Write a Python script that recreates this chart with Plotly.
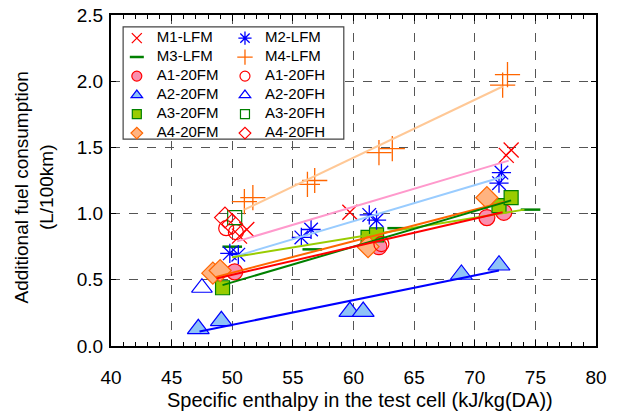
import plotly.graph_objects as go

# ---- data ----
m1_x = [50.6, 51.2, 59.7, 72.6, 73.0]
m1_y = [0.83, 0.88, 1.01, 1.44, 1.48]
m2_x = [49.8, 50.5, 55.7, 56.5, 61.3, 61.9, 72.0, 72.2]
m2_y = [0.70, 0.69, 0.82, 0.88, 0.99, 0.95, 1.23, 1.31]
m3_x = [50.0, 56.6, 63.6, 74.6]
m3_y = [0.75, 0.73, 0.89, 1.03]
m4_x = [51.0, 51.7, 56.2, 56.8, 62.1, 63.2, 72.3, 72.7]
m4_y = [1.09, 1.12, 1.22, 1.25, 1.46, 1.49, 1.97, 2.05]

a1fm_x = [50.2, 62.1, 71.0, 72.4]
a1fm_y = [0.56, 0.75, 0.97, 1.01]
a1fh_x = [49.5, 50.3, 62.3]
a1fh_y = [0.89, 0.86, 0.77]
a2fm_x = [47.2, 49.1, 59.7, 60.8, 68.9, 72.0]
a2fm_y = [0.13, 0.19, 0.26, 0.26, 0.54, 0.61]
a2fh_x = [47.5]
a2fh_y = [0.44]
a3fm_x = [49.2, 61.2, 61.9, 72.0, 73.0]
a3fm_y = [0.44, 0.82, 0.84, 1.06, 1.12]
a3fh_x = [50.2]
a3fh_y = [0.97]
a4fm_x = [48.4, 49.0, 61.2, 71.0]
a4fm_y = [0.55, 0.57, 0.75, 1.12]
a4fh_x = [49.4, 50.0]
a4fh_y = [0.97, 0.92]

# trend lines (end points)
fit_m1_x, fit_m1_y = [50.4, 72.8], [0.79, 1.40]
fit_m2_x, fit_m2_y = [50.0, 72.4], [0.67, 1.28]
fit_m3_x, fit_m3_y = [50.0, 74.1], [0.67, 1.03]
fit_m4_x, fit_m4_y = [51.0, 72.3], [1.03, 1.96]
fit_a1_x, fit_a1_y = [48.7, 72.3], [0.51, 1.01]
fit_a2_x, fit_a2_y = [47.3, 72.0], [0.11, 0.57]
fit_a3_x, fit_a3_y = [49.2, 73.0], [0.46, 1.10]
fit_a4_x, fit_a4_y = [48.6, 72.5], [0.52, 1.09]

FONT = "Arial, Liberation Sans, sans-serif"

fig = go.Figure()

def pts(x, y, name, legend, symbol, size, lsize, color, fill=None, lw=1.2):
    mk = dict(symbol=symbol, color=fill if fill else color, line=dict(color=color, width=lw))
    # data markers
    fig.add_trace(go.Scatter(x=x, y=y, mode="markers", name=name, showlegend=False,
                             marker=dict(size=size, **mk)))
    # small marker for the legend only (bigger text, tight rows)
    fig.add_trace(go.Scatter(x=[None], y=[None], mode="markers",
                             name=f'<span style="font-size:15px">{name}</span>',
                             legend=legend, marker=dict(size=lsize, **mk)))

# left column of legend
pts(m1_x, m1_y, "M1-LFM", "legend", "x-thin-open", 15, 10, "#FF0000", lw=1.3)
pts(m3_x, m3_y, "M3-LFM", "legend", "line-ew-open", 14, 10, "#008000", lw=2.5)
pts(a1fm_x, a1fm_y, "A1-20FM", "legend", "circle", 16, 10, "#FF0000", fill="#F98FAE")
pts(a2fm_x, a2fm_y, "A2-20FM", "legend", "triangle-up", 19, 10, "#0000FF", fill="#8FC3F7")
pts(a3fm_x, a3fm_y, "A3-20FM", "legend", "square", 14, 9, "#008000", fill="#99CC00")
pts(a4fm_x, a4fm_y, "A4-20FM", "legend", "diamond", 17, 9, "#FF6600", fill="#FFB380")
# right column of legend
pts(m2_x, m2_y, "M2-LFM", "legend2", "asterisk-open", 16, 11, "#0000FF", lw=1.3)
pts(m4_x, m4_y, "M4-LFM", "legend2", "cross-thin-open", 18, 11, "#FF6600", lw=1.3)
pts(a1fh_x, a1fh_y, "A1-20FH", "legend2", "circle-open", 15, 10, "#FF0000")
pts(a2fh_x, a2fh_y, "A2-20FH", "legend2", "triangle-up-open", 18, 10, "#0000FF")
pts(a3fh_x, a3fh_y, "A3-20FH", "legend2", "square-open", 14, 9, "#008000")
pts(a4fh_x, a4fh_y, "A4-20FH", "legend2", "diamond-open", 16, 9, "#FF0000")

# trend lines drawn over the markers
for fx, fy, c in [
    (fit_m4_x, fit_m4_y, "#FFC896"),
    (fit_m1_x, fit_m1_y, "#FF99CC"),
    (fit_m2_x, fit_m2_y, "#99CCFF"),
    (fit_m3_x, fit_m3_y, "#99CC00"),
    (fit_a4_x, fit_a4_y, "#FF6600"),
    (fit_a3_x, fit_a3_y, "#008000"),
    (fit_a1_x, fit_a1_y, "#FF0000"),
    (fit_a2_x, fit_a2_y, "#0000FF"),
]:
    fig.add_trace(go.Scatter(x=fx, y=fy, mode="lines", showlegend=False,
                             line=dict(color=c, width=2), hoverinfo="skip"))

# white legend box (above the grid, the legend itself is drawn on top)
fig.add_shape(type="rect", xref="paper", yref="paper",
              x0=0.025, x1=0.480, y0=0.625, y1=0.964,
              line=dict(color="#444444", width=1.2), fillcolor="white",
              layer="above")

# axis titles as annotations so they sit where the reference has them
fig.add_annotation(text="Specific enthalpy in the test cell (kJ/kg(DA))",
                   xref="paper", yref="paper", x=0.513, y=-0.163,
                   xanchor="center", yanchor="middle", showarrow=False,
                   font=dict(family=FONT, size=20, color="black"))
fig.add_annotation(text="Additional fuel consumption<br>(L/100km)",
                   xref="paper", yref="paper", x=-0.158, y=0.48,
                   xanchor="center", yanchor="middle", showarrow=False, textangle=-90,
                   font=dict(family=FONT, size=19, color="black"))

legend_style = dict(font=dict(family=FONT, size=11.2, color="black"),
                    bgcolor="rgba(0,0,0,0)", borderwidth=0,
                    xanchor="left", yanchor="top", tracegroupgap=0)

fig.update_layout(
    width=619, height=414,
    margin=dict(l=111, r=23, t=15, b=68),
    paper_bgcolor="white", plot_bgcolor="white",
    font=dict(family=FONT, size=19, color="black"),
    legend=dict(x=0.012, y=0.974, **legend_style),
    legend2=dict(x=0.235, y=0.974, **legend_style),
    xaxis=dict(
        range=[40, 80], dtick=5, tick0=40, automargin=False,
        showline=True, linecolor="black", linewidth=2, mirror="ticks",
        ticks="inside", ticklen=6, tickcolor="black",
        minor=dict(dtick=1, ticks="inside", ticklen=4, tickcolor="black", showgrid=False),
        showgrid=True, gridcolor="#555555", griddash="dash", gridwidth=1.2,
        zeroline=False, ticklabelstandoff=13,
    ),
    yaxis=dict(
        range=[0, 2.5], dtick=0.5, tickformat=".1f", automargin=False,
        showline=True, linecolor="black", linewidth=2, mirror="ticks",
        ticks="inside", ticklen=5, tickcolor="black",
        showgrid=True, gridcolor="#555555", griddash="dash", gridwidth=1.2,
        zeroline=False, ticklabelstandoff=2,
    ),
)

fig.write_html("out.html", config={"displayModeBar": False},
               post_script="document.body.style.margin='0';")
